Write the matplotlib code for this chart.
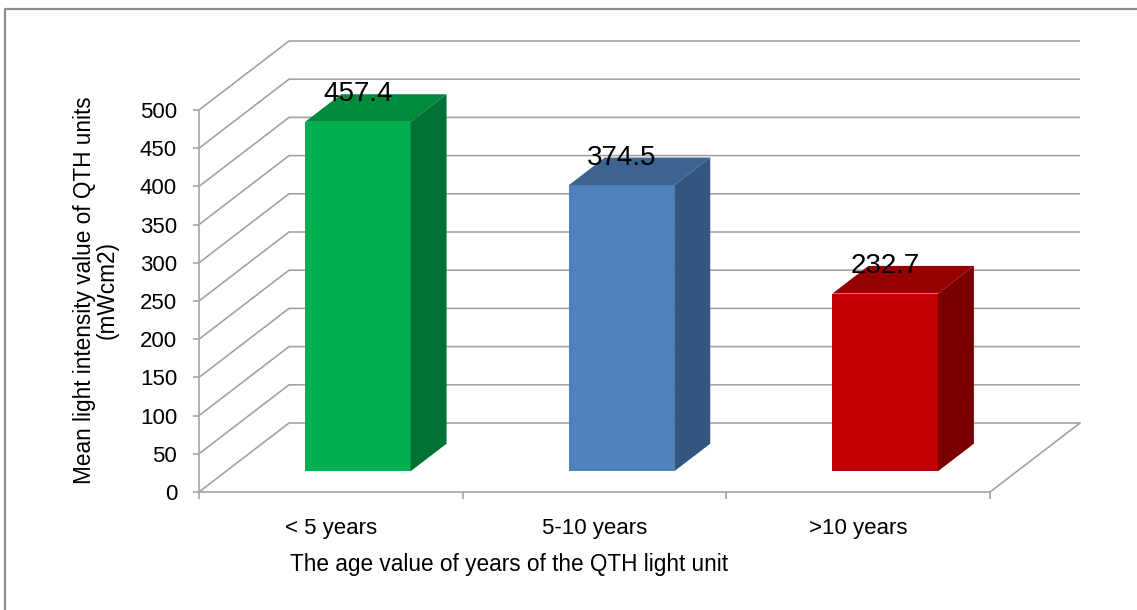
import matplotlib
matplotlib.use("Agg")

import matplotlib.pyplot as plt
from matplotlib.patches import Polygon
from matplotlib.lines import Line2D

plt.rcParams["font.family"] = ["Liberation Sans", "DejaVu Sans"]

categories = ["< 5 years", "5-10 years", ">10 years"]
values = [457.4, 374.5, 232.7]
front_colors = ["#00b050", "#4f81bd", "#c00000"]
top_colors = ["#008a3e", "#3d6491", "#960000"]
side_colors = ["#007234", "#33557f", "#780000"]
yticks = [0, 50, 100, 150, 200, 250, 300, 350, 400, 450, 500]

W, H = 1137, 610
fig = plt.figure(figsize=(W / 100, H / 100), dpi=100)

# pixel scale of the front plane
px_x = 263.67
px_y = 0.764
xmax, ymax = 3.45, 600
ax = fig.add_axes([199 / W, (H - 492) / H, xmax * px_x / W, ymax * px_y / H])
ax.set_xlim(0, xmax)
ax.set_ylim(0, ymax)

# depth offset of the back wall (data units)
dx = 90 / px_x
dy = 69 / px_y
grid_c = "#a3a3a3"

# side wall + back wall gridlines
for v in yticks:
    ax.plot([0, dx, len(categories) + dx], [v, v + dy, v + dy],
            color=grid_c, lw=1.2, zorder=1, solid_capstyle="butt")
# right edge of the floor
ax.plot([len(categories), len(categories) + dx], [0, dy], color=grid_c, lw=1.2, zorder=1)

# 3D bars, sitting between 30% and 70% of the depth
w = 0.4
d1, d2 = 0.3, 0.7
for i, v in enumerate(values):
    left = i + 0.5 - w / 2 + d1 * dx
    right = left + w
    bx = (d2 - d1) * dx
    by = (d2 - d1) * dy
    base = d1 * dy
    front = Polygon([(left, base), (right, base), (right, base + v), (left, base + v)],
                    closed=True, fc=front_colors[i], ec="none", zorder=3)
    top = Polygon([(left, base + v), (right, base + v), (right + bx, base + v + by),
                   (left + bx, base + v + by)], closed=True, fc=top_colors[i], ec="none", zorder=3)
    side = Polygon([(right, base), (right + bx, base + by), (right + bx, base + v + by),
                    (right, base + v)], closed=True, fc=side_colors[i], ec="none", zorder=3)
    ax.add_patch(front)
    ax.add_patch(top)
    ax.add_patch(side)
    ax.text(i + 0.5 + d1 * dx, v + d2 * dy, f"{v}", ha="center", va="center",
            fontsize=20, zorder=4)

for s in ["top", "right"]:
    ax.spines[s].set_visible(False)
ax.spines["left"].set_bounds(0, 500)
ax.spines["bottom"].set_bounds(0, len(categories))
for s in ["left", "bottom"]:
    ax.spines[s].set_color(grid_c)
    ax.spines[s].set_linewidth(1.2)
    ax.spines[s].set_zorder(2)

ax.set_yticks(yticks)
ax.tick_params(axis="y", length=4.3, width=1.2, color=grid_c, pad=11.5, labelsize=16)
ax.set_xticks([0.5, 1.5, 2.5])
ax.set_xticklabels(categories)
ax.set_xticks([0, 1, 2, 3], minor=True)
ax.tick_params(axis="x", which="major", length=0, pad=19, labelsize=16)
ax.tick_params(axis="x", which="minor", length=5, width=1.2, color=grid_c)

fig.text(96 / W, 1 - 290 / H, "Mean light intensity value of QTH units\n(mWcm2)",
         rotation=90, ha="center", va="center", multialignment="center",
         fontsize=16.3, linespacing=1.0)
fig.text(509 / W, 1 - 564 / H, "The age value of years of the QTH light unit",
         ha="center", va="center", fontsize=16.3)

# chart border (only top and left visible in the crop)
fig.add_artist(Line2D([5 / W, 5 / W, 1.0], [0.0, 1 - 9 / H, 1 - 9 / H],
                      transform=fig.transFigure, color="#8c8c8c", lw=1.6))

plt.savefig("out.png", dpi=100)
